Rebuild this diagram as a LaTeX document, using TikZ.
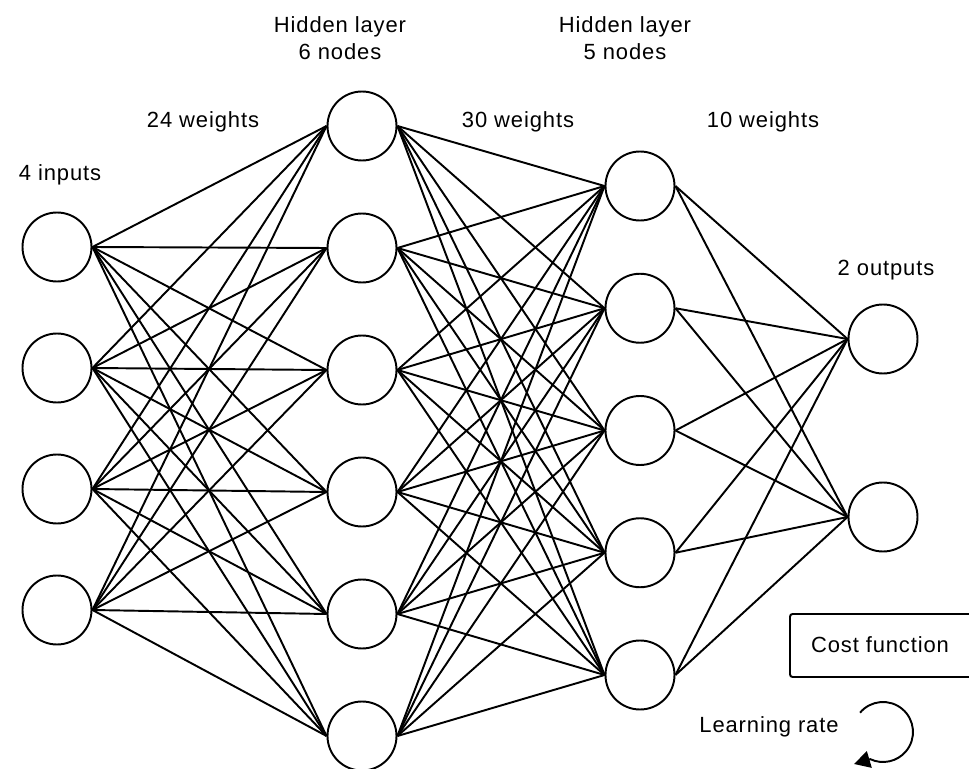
\documentclass[tikz,border=0pt]{standalone}
\usepackage{fontspec}
\setmainfont[LetterSpace=4]{Liberation Sans}
\usetikzlibrary{arrows.meta}
\tikzset{
  every picture/.style={line width=1.1pt, font=\fontsize{12.5}{15}\selectfont},
  neuron/.style={circle, draw, fill=white, minimum size=1.38cm, inner sep=0pt},
  wire/.style={line width=1.1pt},
  label/.style={align=center, inner sep=1pt},
  costbox/.style={draw, rounded corners=1.5pt, minimum width=3.7cm, minimum height=1.26cm, inner sep=0pt},
}

\begin{document}
\begin{tikzpicture}[x=0.2mm, y=-0.2mm]
  \useasboundingbox (0,0) rectangle (969,769);

  % layers of neurons
  \foreach \k in {1,...,4}
    \node[neuron] (in\k) at (57, 247+121*\k-121) {};
  \foreach \k in {1,...,6}
    \node[neuron] (ha\k) at (362, 126+122*\k-122) {};
  \foreach \k in {1,...,5}
    \node[neuron] (hb\k) at (640, 186+122.25*\k-122.25) {};
  \node[neuron] (out1) at (883, 339) {};
  \node[neuron] (out2) at (883, 517) {};

  % weights between the layers
  \foreach \i in {1,...,4}
    \foreach \j in {1,...,6}
      \draw[wire] (in\i.east) -- (ha\j.west);
  \foreach \i in {1,...,6}
    \foreach \j in {1,...,5}
      \draw[wire] (ha\i.east) -- (hb\j.west);
  \foreach \i in {1,...,5}
    \foreach \j in {1,2}
      \draw[wire] (hb\i.east) -- (out\j.west);

  % captions
  \node[label] (tin) at (60,175) {4 inputs};
  \node[label] (w1) at (203,122) {24 weights};
  \node[label] (tha) at (340,38) {Hidden layer\\6 nodes};
  \node[label] (w2) at (518,122) {30 weights};
  \node[label] (thb) at (625,38) {Hidden layer\\5 nodes};
  \node[label] (w3) at (763,122) {10 weights};
  \node[label] (tout) at (886,270) {2 outputs};

  % training bits
  \node[costbox] (cost) at (882.5,645.5) {};
  \node[label] (costtxt) at (880,645) {Cost function};
  \node[label] (lr) at (769,727) {Learning rate};
  \coordinate (loop) at (883,732);
  \coordinate (looptip) at (854,764);
  \draw[-{Triangle[length=3.2mm, width=3.4mm]}] ([shift={(140:6mm)}]loop)
    arc[start angle=140, end angle=-115, radius=6mm] -- (looptip);
\end{tikzpicture}
\end{document}
